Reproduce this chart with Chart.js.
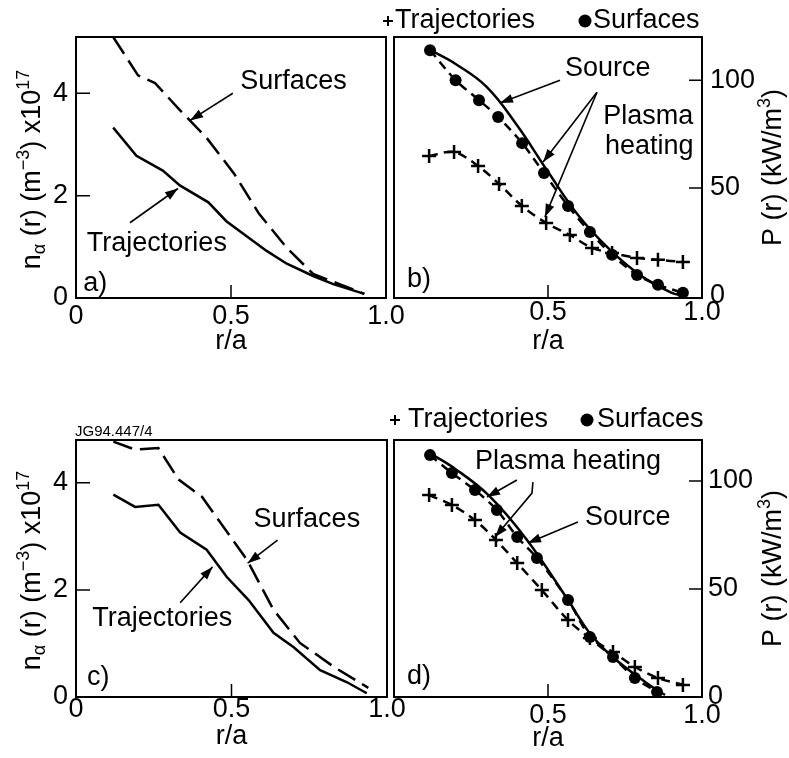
<!DOCTYPE html>
<html>
<head>
<meta charset="utf-8">
<script src="https://cdn.jsdelivr.net/npm/chart.js@4.4.1/dist/chart.umd.min.js"></script>
<style>
  html, body { margin: 0; padding: 0; background: #fff; }
  #wrap { position: relative; width: 789px; height: 758px; overflow: hidden; }
  #wrap canvas { position: absolute; }
</style>
</head>
<body>
<div id="wrap">
  <canvas id="chart-a" width="430" height="380" style="left:0px;top:0px"></canvas>
  <canvas id="chart-b" width="419" height="380" style="left:370px;top:0px"></canvas>
  <canvas id="chart-c" width="430" height="378" style="left:0px;top:380px"></canvas>
  <canvas id="chart-d" width="419" height="378" style="left:370px;top:380px"></canvas>
</div>
<script>
// a) alpha density, case 1
const rA_traj = [0.12, 0.195, 0.28, 0.335, 0.427, 0.485, 0.615, 0.68, 0.765, 0.83, 0.93];
const nA_traj = [3.33, 2.78, 2.49, 2.20, 1.87, 1.50, 0.92, 0.67, 0.43, 0.27, 0.08];
const rA_surf = [0.12, 0.20, 0.255, 0.335, 0.42, 0.51, 0.59, 0.68, 0.765, 0.85, 0.93];
const nA_surf = [5.1, 4.35, 4.2, 3.67, 3.14, 2.43, 1.65, 0.98, 0.47, 0.27, 0.08];

// b) heating profiles, case 1
const rB_surf = [0.117, 0.20, 0.276, 0.338, 0.416, 0.487, 0.565, 0.636, 0.708, 0.789, 0.857, 0.938];
const pB_surf = [113.9, 100, 90.7, 82.9, 70.8, 56.9, 41.7, 29.6, 19.0, 9.7, 5.1, 1.4];
const rB_traj = [0.114, 0.195, 0.273, 0.341, 0.415, 0.494, 0.571, 0.643, 0.708, 0.789, 0.857, 0.938];
const pB_traj = [64.8, 66.7, 60.2, 51.9, 41.7, 33.8, 28.2, 22.2, 19.9, 17.6, 16.7, 15.7];
const rB_src = [0.117, 0.2, 0.3, 0.4, 0.5, 0.6, 0.7, 0.8, 0.9, 0.94];
const pB_src = [114, 107.5, 97, 79, 57.5, 37, 21.5, 9.5, 1.5, 0];

// c) alpha density, case 2
const rC_traj = [0.12, 0.19, 0.265, 0.335, 0.42, 0.485, 0.555, 0.635, 0.70, 0.785, 0.87, 0.935];
const nC_traj = [3.78, 3.55, 3.59, 3.07, 2.75, 2.24, 1.81, 1.20, 0.93, 0.50, 0.28, 0.07];
const rC_surf = [0.12, 0.19, 0.265, 0.33, 0.405, 0.55, 0.635, 0.72, 0.83, 0.94];
const nC_surf = [4.77, 4.62, 4.65, 4.06, 3.74, 2.56, 1.63, 1.01, 0.56, 0.17];

// d) heating profiles, case 2
const rD_surf = [0.117, 0.188, 0.263, 0.334, 0.40, 0.464, 0.565, 0.636, 0.711, 0.782, 0.854];
const pD_surf = [112, 103.7, 95.8, 86.6, 74.1, 64.4, 44.9, 27.8, 18.5, 8.8, 2.3];
const rD_traj = [0.114, 0.188, 0.263, 0.331, 0.40, 0.48, 0.565, 0.636, 0.711, 0.782, 0.857, 0.938];
const pD_traj = [93.5, 88.9, 81.9, 72.7, 62, 49.5, 35.6, 27.3, 20.8, 13.9, 8.8, 5.6];
const rD_src = [0.11, 0.2, 0.31, 0.43, 0.565, 0.636, 0.71, 0.82, 0.88];
const pD_src = [113.4, 105.5, 93, 73, 44.9, 29.5, 18.5, 6.5, 0.9];

const FONT = '"Liberation Sans", Arial, Helvetica, sans-serif';
const FS = 27;
Chart.defaults.font.family = FONT;
Chart.defaults.color = '#000';

function pts(xs, ys) {
  return xs.map((x, i) => ({ x: x, y: ys[i] }));
}

function arrowHead(ctx, x0, y0, x1, y1) {
  const ang = Math.atan2(y1 - y0, x1 - x0);
  const len = 13, half = 4.5;
  const bx = x1 - len * Math.cos(ang), by = y1 - len * Math.sin(ang);
  ctx.beginPath();
  ctx.moveTo(x1, y1);
  ctx.lineTo(bx + half * Math.sin(ang), by - half * Math.cos(ang));
  ctx.lineTo(bx - half * Math.sin(ang), by + half * Math.cos(ang));
  ctx.closePath();
  ctx.fill();
}

// rotated axis title with sub/superscripts
function drawRuns(ctx, runs, cx, cy) {
  ctx.save();
  ctx.translate(cx, cy);
  ctx.rotate(-Math.PI / 2);
  ctx.textBaseline = 'alphabetic';
  ctx.textAlign = 'left';
  let w = 0;
  runs.forEach(r => {
    ctx.font = (r.sub || r.sup ? 18 : FS) + 'px ' + FONT;
    r.w = ctx.measureText(r.t).width;
    w += r.w;
  });
  let x = -w / 2;
  runs.forEach(r => {
    ctx.font = (r.sub || r.sup ? 18 : FS) + 'px ' + FONT;
    const dy = r.sub ? 5 : (r.sup ? -11 : 0);
    ctx.fillText(r.t, x, 10 + dy);
    x += r.w;
  });
  ctx.restore();
}

const panelDecor = {
  id: 'panelDecor',
  afterDraw(chart, args, o) {
    const ctx = chart.ctx, a = chart.chartArea;
    const xs = chart.scales.x, ys = chart.scales.y;
    ctx.save();
    ctx.strokeStyle = '#000';
    ctx.fillStyle = '#000';

    // frame
    ctx.lineWidth = 2;
    ctx.strokeRect(a.left, a.top, a.right - a.left, a.bottom - a.top);

    // inward tick marks
    ctx.lineWidth = 1.5;
    ctx.beginPath();
    xs.ticks.forEach(t => {
      const px = xs.getPixelForValue(t.value);
      if (px - a.left > 4 && a.right - px > 4) {
        ctx.moveTo(px, a.bottom);
        ctx.lineTo(px, a.bottom - 13);
      }
    });
    ys.ticks.forEach(t => {
      const py = ys.getPixelForValue(t.value);
      if (a.bottom - py > 4 && py - a.top > 4) {
        if (o.side === 'left') {
          ctx.moveTo(a.left, py);
          ctx.lineTo(a.left + 14, py);
        } else {
          ctx.moveTo(a.right, py);
          ctx.lineTo(a.right - 13, py);
        }
      }
    });
    ctx.stroke();

    // annotations (data coordinates)
    ctx.font = FS + 'px ' + FONT;
    ctx.textBaseline = 'middle';
    ctx.textAlign = 'left';
    ctx.lineWidth = 1.6;
    (o.notes || []).forEach(n => {
      if (n.text) {
        ctx.fillText(n.text, xs.getPixelForValue(n.x), ys.getPixelForValue(n.y));
      } else if (n.arrow) {
        const p = n.arrow.map(q => [xs.getPixelForValue(q[0]), ys.getPixelForValue(q[1])]);
        ctx.beginPath();
        ctx.moveTo(p[0][0], p[0][1]);
        for (let i = 1; i < p.length; i++) ctx.lineTo(p[i][0], p[i][1]);
        ctx.stroke();
        const k = p.length - 1;
        arrowHead(ctx, p[k - 1][0], p[k - 1][1], p[k][0], p[k][1]);
      }
    });

    // marker key above the box
    if (o.key) {
      const K = o.key, ly = a.top + K.dy;
      ctx.lineWidth = 2;
      ctx.beginPath();
      ctx.moveTo(a.left + K.cross - 5, ly);
      ctx.lineTo(a.left + K.cross + 5, ly);
      ctx.moveTo(a.left + K.cross, ly - 5);
      ctx.lineTo(a.left + K.cross, ly + 5);
      ctx.stroke();
      ctx.beginPath();
      ctx.arc(a.left + K.dot, ly, 6.5, 0, 2 * Math.PI);
      ctx.fill();
      ctx.fillText('Trajectories', a.left + K.trajText, ly);
      ctx.fillText('Surfaces', a.left + K.surfText, ly);
    }

    if (o.tag) {
      ctx.font = '15px ' + FONT;
      ctx.textBaseline = 'alphabetic';
      ctx.fillText(o.tag, a.left - 1, a.top - 4);
    }

    // y title
    if (o.side === 'left') {
      drawRuns(ctx, [{ t: 'n' }, { t: 'α', sub: true }, { t: ' (r) (m' }, { t: '−3', sup: true },
        { t: ') x10' }, { t: '17', sup: true }], a.left - 46, (a.top + a.bottom) / 2 + 2);
    } else {
      drawRuns(ctx, [{ t: 'P (r) (kW/m' }, { t: '3', sup: true }, { t: ')' }],
        a.right + 69, (a.top + a.bottom) / 2);
    }
    ctx.restore();
  }
};

function makePanel(id, cfg) {
  return new Chart(document.getElementById(id), {
    type: 'line',
    data: { datasets: cfg.datasets },
    plugins: [panelDecor],
    options: {
      responsive: false,
      animation: false,
      events: [],
      layout: { padding: cfg.pad },
      scales: {
        x: {
          type: 'linear', min: 0, max: 1,
          grid: { display: false, drawTicks: false },
          border: { display: false },
          ticks: {
            stepSize: 0.5, maxRotation: 0, padding: cfg.xTickPad,
            font: { size: FS },
            callback: v => v === 0 ? (cfg.hideZero ? '' : '0') : v.toFixed(1)
          },
          title: { display: true, text: 'r/a', font: { size: FS }, padding: { top: 0, bottom: 0 } },
          afterFit: s => { s.height = cfg.xHeight; }
        },
        y: {
          type: 'linear', position: cfg.side, min: cfg.yMin, max: cfg.yMax,
          grid: { display: false, drawTicks: false },
          border: { display: false },
          ticks: { stepSize: cfg.yStep, includeBounds: false, padding: cfg.yTickPad, font: { size: FS } },
          afterFit: s => { s.width = cfg.yWidth; }
        }
      },
      plugins: {
        legend: { display: false },
        tooltip: { enabled: false },
        panelDecor: { side: cfg.side, notes: cfg.notes, key: cfg.key, tag: cfg.tag }
      }
    }
  });
}

const solid = { borderColor: '#000', borderWidth: 2.5, pointRadius: 0, tension: 0, fill: false };

makePanel('chart-a', {
  side: 'left', yMin: 0, yMax: 5.1, yStep: 2, yWidth: 76, yTickPad: 8,
  pad: { left: 0, top: 37, right: 44, bottom: 22 }, xHeight: 60, xTickPad: 2,
  datasets: [
    Object.assign({ label: 'Trajectories', data: pts(rA_traj, nA_traj) }, solid),
    Object.assign({ label: 'Surfaces', data: pts(rA_surf, nA_surf) }, solid, { borderDash: [20, 8] })
  ],
  notes: [
    { text: 'Surfaces', x: 0.53, y: 4.22 },
    { arrow: [[0.506, 4.0], [0.368, 3.47]] },
    { text: 'Trajectories', x: 0.035, y: 1.06 },
    { arrow: [[0.174, 1.47], [0.329, 2.14]] },
    { text: 'a)', x: 0.023, y: 0.29 }
  ]
});

makePanel('chart-b', {
  side: 'right', yMin: -1, yMax: 120, yStep: 50, yWidth: 87, yTickPad: 8, hideZero: true,
  pad: { left: 24, top: 37, right: 0, bottom: 22 }, xHeight: 60, xTickPad: -2,
  datasets: [
    Object.assign({ label: 'Source', data: pts(rB_src, pB_src) }, solid, { tension: 0.4 }),
    Object.assign({ label: 'Surfaces', data: pts(rB_surf, pB_surf) }, solid,
      { borderDash: [9, 6], tension: 0.3, pointStyle: 'circle', pointRadius: 6, pointBackgroundColor: '#000', pointBorderWidth: 0 }),
    Object.assign({ label: 'Trajectories', data: pts(rB_traj, pB_traj) }, solid,
      { borderDash: [9, 6], tension: 0.3, pointStyle: 'cross', pointRadius: 7, pointBorderWidth: 2.5 })
  ],
  notes: [
    { text: 'Source', x: 0.555, y: 105.6 },
    { arrow: [[0.539, 100], [0.344, 89.4]] },
    { text: 'Plasma', x: 0.679, y: 83.3 },
    { text: 'heating', x: 0.685, y: 69 },
    { arrow: [[0.659, 94.4], [0.484, 62]] },
    { arrow: [[0.659, 94.4], [0.49, 36.6]] },
    { text: 'b)', x: 0.042, y: 7.4 }
  ],
  key: { dy: -16, cross: -6, trajText: 1, dot: 191, surfText: 199 }
});

makePanel('chart-c', {
  side: 'left', yMin: 0, yMax: 4.8, yStep: 2, yWidth: 76, yTickPad: 8,
  pad: { left: 0, top: 60, right: 43, bottom: 5 }, xHeight: 56, xTickPad: -4,
  datasets: [
    Object.assign({ label: 'Trajectories', data: pts(rC_traj, nC_traj) }, solid),
    Object.assign({ label: 'Surfaces', data: pts(rC_surf, nC_surf) }, solid, { borderDash: [20, 8] })
  ],
  notes: [
    { text: 'Surfaces', x: 0.571, y: 3.31 },
    { arrow: [[0.648, 2.93], [0.552, 2.5]] },
    { text: 'Trajectories', x: 0.052, y: 1.46 },
    { arrow: [[0.335, 1.76], [0.439, 2.43]] },
    { text: 'c)', x: 0.035, y: 0.36 }
  ],
  tag: 'JG94.447/4'
});

makePanel('chart-d', {
  side: 'right', yMin: 0, yMax: 119, yStep: 50, yWidth: 87, yTickPad: 6, hideZero: true,
  pad: { left: 24, top: 60, right: 0, bottom: 3 }, xHeight: 58, xTickPad: 2,
  datasets: [
    Object.assign({ label: 'Source', data: pts(rD_src, pD_src) }, solid, { tension: 0.4 }),
    Object.assign({ label: 'Surfaces', data: pts(rD_surf, pD_surf) }, solid,
      { borderDash: [9, 6], tension: 0.3, pointStyle: 'circle', pointRadius: 6, pointBackgroundColor: '#000', pointBorderWidth: 0 }),
    Object.assign({ label: 'Trajectories', data: pts(rD_traj, pD_traj) }, solid,
      { borderDash: [9, 6], tension: 0.3, pointStyle: 'cross', pointRadius: 7, pointBorderWidth: 2.5 })
  ],
  notes: [
    { text: 'Plasma heating', x: 0.263, y: 108.8 },
    { arrow: [[0.399, 100.5], [0.302, 92.6]] },
    { arrow: [[0.451, 99.5], [0.448, 94.4], [0.328, 74.1]] },
    { text: 'Source', x: 0.62, y: 83.3 },
    { arrow: [[0.597, 81], [0.435, 71.3]] },
    { text: 'd)', x: 0.042, y: 9.3 }
  ],
  key: { dy: -20, cross: 1, trajText: 14, dot: 193, surfText: 203 }
});
</script>
</body>
</html>
